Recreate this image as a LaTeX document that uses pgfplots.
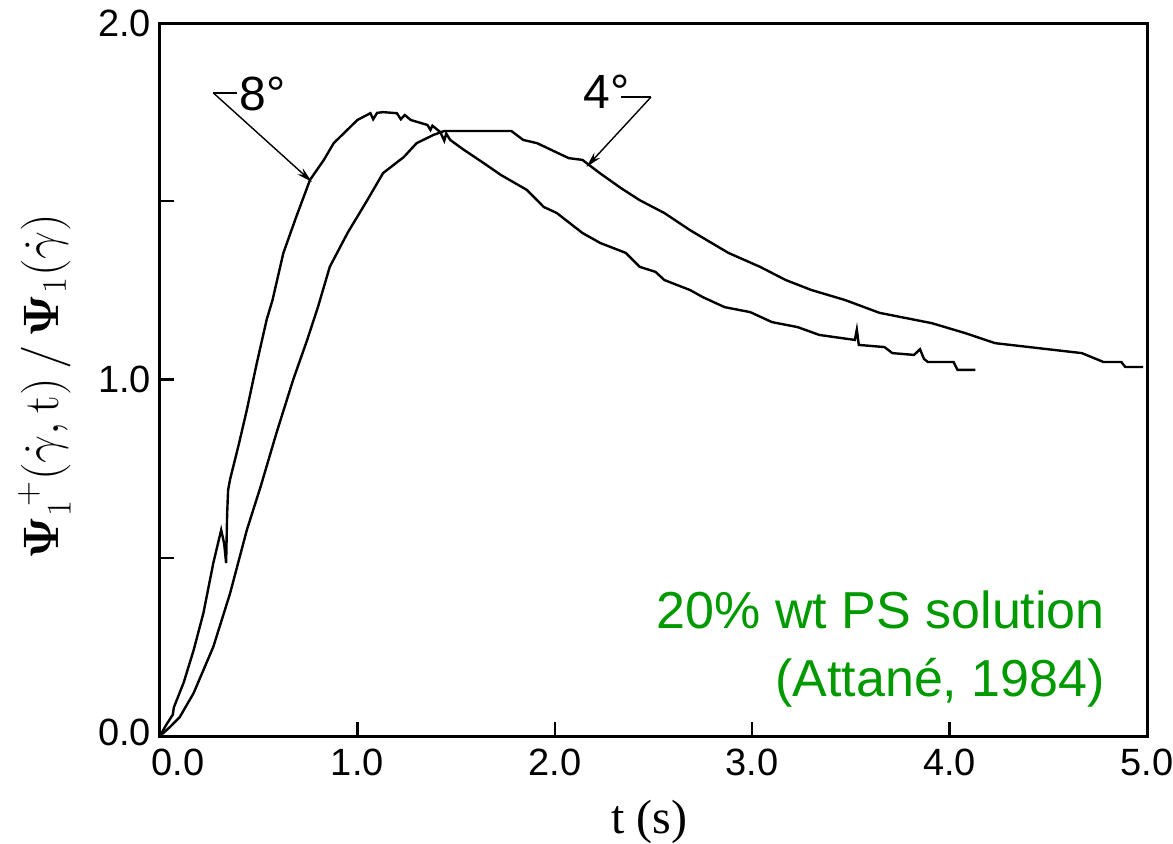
\documentclass[border=0pt]{standalone}
\usepackage[no-math]{fontspec}
\setmainfont{Liberation Sans}
\newfontfamily\serif{Liberation Serif}
\usepackage{amsmath}
\usepackage{pgfplots}
\pgfplotsset{compat=1.18}
\usetikzlibrary{arrows.meta}
\definecolor{txtgreen}{RGB}{0,153,0}

\begin{document}
\begin{tikzpicture}
\useasboundingbox (-80pt,-53.5pt) rectangle (506.5pt,368pt);
\begin{axis}[
    at={(0,0)}, anchor=south west,
    scale only axis,
    width=493.5pt, height=356.5pt,
    xmin=0, xmax=5, ymin=0, ymax=2,
    xtick={0,1,2,3,4,5},
    xticklabels={\hspace{18pt}0.0,1.0,2.0,3.0,4.0,5.0},
    ytick={0,0.5,1,1.5,2},
    yticklabels={\raisebox{4pt}{0.0},,1.0,,2.0},
    tick align=inside,
    xtick pos=bottom, ytick pos=left,
    major tick length=7pt,
    tick style={line width=1.2pt, black},
    axis line style={line width=1.5pt},
    ticklabel style={font=\fontsize{19}{19}\selectfont},
    xticklabel style={yshift=-3pt},
    yticklabel style={xshift=-1pt},
    xlabel={\serif\fontsize{24}{24}\selectfont t (s)},
    every axis x label/.style={at={(axis description cs:0.496,-0.121)}, anchor=center},
    ylabel={\fontsize{26}{26}\selectfont $\boldsymbol{\Psi}_{1}^{\;+}(\dot{\gamma},\mathrm{t})\,/\,\boldsymbol{\Psi}_{1}(\dot{\gamma})$},
    every axis y label/.style={at={(axis description cs:-0.117,0.49)}, rotate=90, anchor=center},
    clip=false,
]

% 8 degree cone
\addplot[black, line width=1.2pt] coordinates {
(0,0.0) (0.03,0.03) (0.065,0.06) (0.07,0.08) (0.12,0.15) (0.17,0.24) (0.22,0.345)
(0.27,0.485) (0.31,0.578) (0.325,0.54) (0.335,0.485) (0.34,0.62) (0.345,0.69)
(0.355,0.72) (0.40,0.82) (0.44,0.915) (0.49,1.045) (0.54,1.167) (0.57,1.223)
(0.625,1.355) (0.69,1.456) (0.76,1.56) (0.83,1.616) (0.88,1.663) (0.93,1.69)
(1.0,1.728) (1.066,1.747) (1.08,1.73) (1.10,1.748) (1.13,1.75) (1.2,1.747)
(1.22,1.73) (1.24,1.742) (1.27,1.728) (1.355,1.714) (1.37,1.70) (1.38,1.712)
(1.42,1.694) (1.44,1.67) (1.45,1.69) (1.47,1.672) (1.54,1.644) (1.64,1.607)
(1.726,1.574) (1.858,1.532) (1.944,1.484) (2.01,1.467) (2.14,1.411) (2.23,1.383)
(2.36,1.355) (2.43,1.316) (2.51,1.302) (2.555,1.279) (2.685,1.251) (2.75,1.231)
(2.86,1.203) (2.99,1.189) (3.10,1.161) (3.23,1.147) (3.34,1.125) (3.52,1.111)
(3.53,1.14) (3.54,1.097) (3.67,1.091) (3.71,1.074) (3.82,1.069) (3.85,1.085)
(3.87,1.058) (3.89,1.049) (4.02,1.049) (4.04,1.027) (4.13,1.027)
};

% 4 degree cone
\addplot[black, line width=1.2pt] coordinates {
(0,0) (0.05,0.025) (0.10,0.053) (0.17,0.12) (0.27,0.25) (0.355,0.40) (0.44,0.578)
(0.51,0.70) (0.59,0.85) (0.675,1.0) (0.745,1.11) (0.80,1.203) (0.86,1.316)
(0.95,1.411) (1.05,1.503) (1.13,1.579) (1.235,1.624) (1.30,1.663) (1.385,1.686)
(1.44,1.697) (1.78,1.697) (1.84,1.672) (1.91,1.663) (2.07,1.621) (2.14,1.616)
(2.23,1.578) (2.335,1.537) (2.43,1.503) (2.555,1.467) (2.685,1.419) (2.77,1.391)
(2.88,1.355) (3.04,1.316) (3.17,1.279) (3.30,1.251) (3.47,1.223) (3.645,1.187)
(3.91,1.158) (4.08,1.130) (4.23,1.102) (4.45,1.088) (4.67,1.074) (4.78,1.049)
(4.87,1.049) (4.89,1.035) (4.98,1.035)
};

% annotations
\draw[line width=0.7pt] (axis cs:0.39,1.804) -- (axis cs:0.27,1.804);
\draw[line width=0.7pt, -{Stealth[length=8pt,width=4pt]}] (axis cs:0.27,1.804) -- (axis cs:0.77,1.554);
\node[font=\fontsize{24}{24}\selectfont] at (axis cs:0.52,1.80) {8°};
\draw[line width=0.7pt] (axis cs:2.335,1.792) -- (axis cs:2.487,1.792);
\draw[line width=0.7pt, -{Stealth[length=8pt,width=4pt]}] (axis cs:2.487,1.792) -- (axis cs:2.16,1.596);
\node[font=\fontsize{24}{24}\selectfont] at (axis cs:2.264,1.806) {4°};

\node[anchor=east, align=right, text=txtgreen, font=\fontsize{26}{34}\selectfont]
  at (axis description cs:0.9645,0.122) {20\% wt PS solution\\(Attané, 1984)};
\end{axis}
\end{tikzpicture}
\end{document}
